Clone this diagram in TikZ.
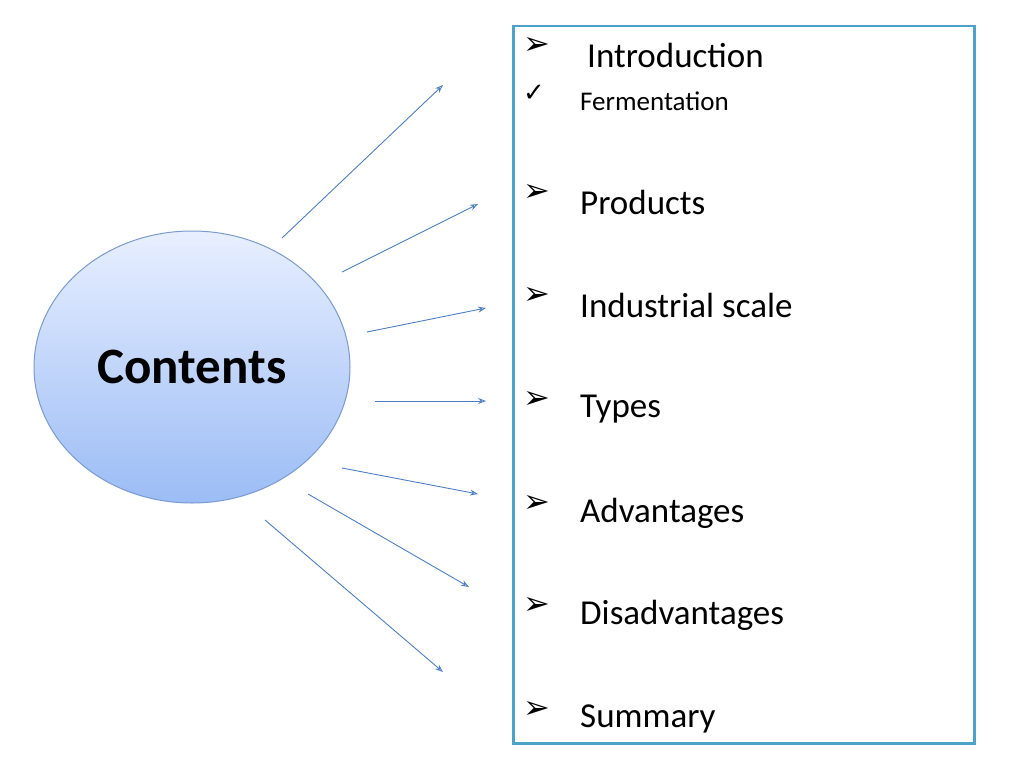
\documentclass[tikz,border=0pt]{standalone}
\usepackage{fontspec}
\setmainfont{Carlito}
\newfontfamily\dv{DejaVu Sans}
\usetikzlibrary{shapes.geometric,arrows.meta}
\definecolor{boxc}{HTML}{4BA3C8}
\definecolor{arr}{HTML}{4F7FC0}
\definecolor{ellb}{HTML}{7A9BD0}
\definecolor{elltop}{HTML}{E8EFFF}
\definecolor{ellbot}{HTML}{9BBCF5}
\begin{document}
\begin{tikzpicture}[x=1pt,y=-1pt,
  con/.style={draw=arr,line width=0.9pt,-{Stealth[length=8pt,width=6pt,open]}},
  item/.style={anchor=west,font=\fontsize{35}{38}\selectfont,inner sep=0},
  bul/.style={anchor=center,font=\dv\bfseries\fontsize{32}{34}\selectfont,inner sep=0}]
\useasboundingbox (0,0) rectangle (1024,768);
\node[ellipse,minimum width=316,minimum height=272,draw=ellb,line width=1pt,top color=elltop,bottom color=ellbot,font=\bfseries\fontsize{51}{54}\selectfont] (c) at (192,367) {Contents};
\node[draw=boxc,line width=2.5pt,minimum width=461,minimum height=717,anchor=north west,inner sep=0] (box) at (512,25) {};
\foreach \n/\a/\b/\c/\d in {1/282/238/443/85,2/342/272/478/204,3/367/332/486/308,4/375/401/486/401,5/342/468/478/494,6/308/494/469/587,7/265/520/443/672}{
  \coordinate (s\n) at (\a,\b); \coordinate (e\n) at (\c,\d);
  \draw[con] (s\n) -- (e\n);}
\node[bul] (b0) at (537,46) {➢};
\node[item] (t0) at (587,55) {Introduction};
\node[bul,font=\dv\fontsize{26}{28}\selectfont] (b1) at (534,93) {✓};
\node[item,font=\fontsize{27}{30}\selectfont] (t1) at (580,101) {Fermentation};
\foreach \n/\y/\t in {2/202/Products,3/305/Industrial scale,4/409/Types,5/513/Advantages,6/615/Disadvantages,7/719/Summary}{
  \node[bul] (b\n) at (537,\y-9) {➢};
  \node[item] (t\n) at (580,\y) {\t};}
\end{tikzpicture}
\end{document}
